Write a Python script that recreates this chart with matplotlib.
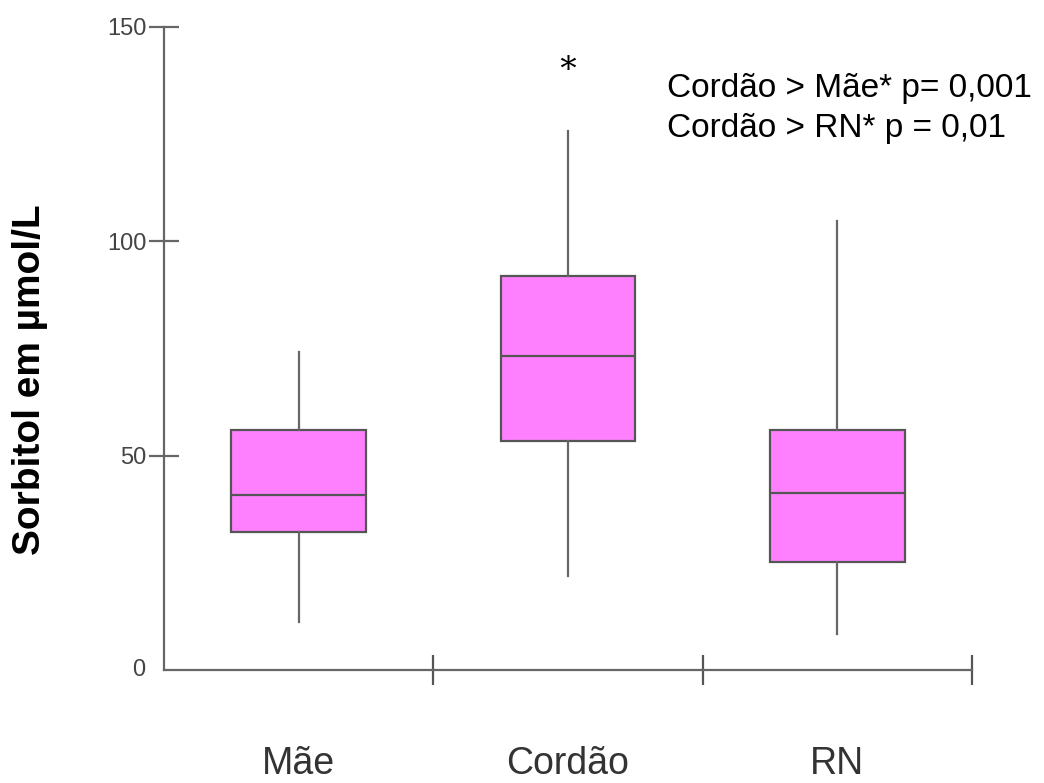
import matplotlib
matplotlib.use("Agg")
import matplotlib.pyplot as plt

categories = ["Mãe", "Cordão", "RN"]
whislo = [11.2, 21.9, 8.4]
q1 = [32.2, 53.4, 25.2]
med = [40.8, 73.2, 41.3]
q3 = [56.0, 91.9, 56.0]
whishi = [74.2, 125.7, 104.7]
fliers = [[], [141.8], []]
yticks = [0, 50, 100, 150]
annot_lines = ["Cordão > Mãe* p= 0,001", "Cordão > RN* p = 0,01"]

plt.rcParams['font.family'] = ['Liberation Sans', 'DejaVu Sans']
plt.rcParams['mathtext.fontset'] = 'dejavuserif'

fig = plt.figure(figsize=(10.44, 7.83), dpi=100)
ax = fig.add_axes([164/1044, 1-670/783, (972-164)/1044, (670-27)/783])

stats = []
for i, c in enumerate(categories):
    stats.append(dict(label=c, whislo=whislo[i], q1=q1[i], med=med[i],
                      q3=q3[i], whishi=whishi[i], fliers=fliers[i]))

pos = [i + 0.5 for i in range(len(categories))]
edge = '#555555'
ax.bxp(stats, positions=pos, widths=0.5, patch_artist=True, showcaps=False,
       boxprops=dict(facecolor='#FF80FF', edgecolor=edge, linewidth=1.6),
       medianprops=dict(color=edge, linewidth=1.6),
       whiskerprops=dict(color='#666666', linewidth=1.6),
       flierprops=dict(marker=r'$\ast$', markersize=11, markerfacecolor='black',
                       markeredgecolor='black', markeredgewidth=0, linestyle='none'))

ax.set_xlim(0, 3)
ax.set_ylim(0, 150)
for s in ['top', 'right']:
    ax.spines[s].set_visible(False)
for s in ['left', 'bottom']:
    ax.spines[s].set_color('#666666')
    ax.spines[s].set_linewidth(1.6)

ax.set_yticks(yticks[1:])
ax.set_yticklabels([str(v) for v in yticks[1:]])
ax.tick_params(axis='y', direction='inout', length=21.6, width=1.6, color='#666666',
               labelsize=17, labelcolor='#444444', pad=2)
ax.text(-0.023, 0, "0", transform=ax.get_yaxis_transform(), ha='right', va='center',
        fontsize=17, color='#444444')

ax.set_xticks([1, 2, 3])
ax.set_xticklabels([])
ax.set_xticks(pos, minor=True)
ax.set_xticklabels(categories, minor=True)
ax.tick_params(axis='x', which='major', direction='inout', length=21, width=1.6, color='#555555')
ax.tick_params(axis='x', which='minor', length=0, labelsize=27, labelcolor='#333333', pad=55)

fig.text(30/1044, 1-380/783, "Sorbitol em µmol/L", rotation=90, ha='center', va='center',
         fontsize=28, fontweight='bold', color='black')

fig.text(667/1044, 1-88/783, annot_lines[0], ha='left', va='center', fontsize=24, color='black')
fig.text(667/1044, 1-128/783, annot_lines[1], ha='left', va='center', fontsize=24, color='black')

fig.savefig("out.png", dpi=100)
